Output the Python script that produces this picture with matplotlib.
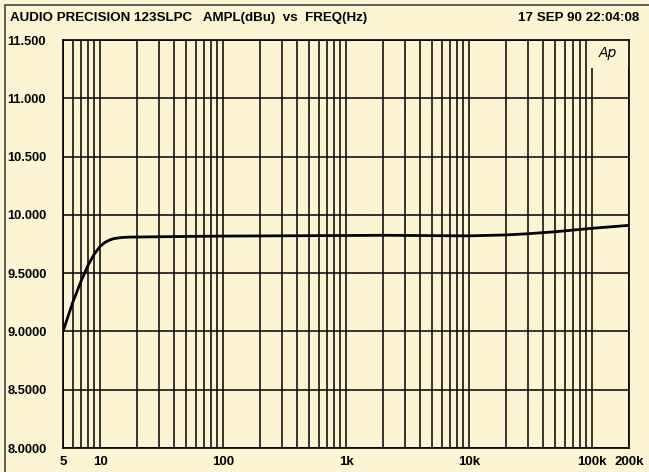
#!/usr/bin/env python3

from matplotlib import pyplot as plt
from matplotlib.patches import Rectangle
from matplotlib import font_manager

# response
freq = [5, 6, 7, 8, 9, 10, 11, 12, 13, 15, 17, 20, 50, 100, 1000, 2000,
        5000, 10000, 20000, 30000, 50000, 100000, 200000]
ampl = [9.0, 9.25, 9.43, 9.57, 9.665, 9.73, 9.765, 9.785, 9.797, 9.806,
        9.809, 9.81, 9.815, 9.818, 9.823, 9.825, 9.822, 9.82, 9.828, 9.838,
        9.855, 9.885, 9.91]

x_ticks = [5, 10, 100, 1000, 10000, 100000, 200000]
x_labels = ["5", "10", "100", "1k", "10k", "100k", "200k"]
y_ticks = [8.0, 8.5, 9.0, 9.5, 10.0, 10.5, 11.0, 11.5]
y_labels = ["8.0000", "8.5000", "9.0000", "9.5000", "10.000", "10.500",
            "11.000", "11.500"]

title = "AUDIO PRECISION 123SLPC   AMPL(dBu)  vs  FREQ(Hz)"
stamp = "17 SEP 90 22:04:08"

bg = "#fcf4d2"
names = [f.name for f in font_manager.fontManager.ttflist]
fam = ["Liberation Sans Narrow", "DejaVu Sans"] if "Liberation Sans Narrow" in names \
    else ["Liberation Sans", "DejaVu Sans"]
plt.rcParams['font.family'] = fam

fig = plt.figure(figsize=(6.49, 4.72), dpi=100, facecolor=bg)
ax = fig.add_axes([0.0971, 0.0508, 0.8721, 0.8644], facecolor=bg)

# outer frame of the printout
fig.add_artist(Rectangle((0.008, -0.01), 1.0, 1.0, transform=fig.transFigure,
                         fill=False, edgecolor="#444444", linewidth=1.2))

grid = []
for dec in [1, 10, 100, 1000, 10000, 100000]:
    for m in range(1, 10):
        f = m * dec
        if 5 <= f <= 200000:
            grid.append(f)

ax.set_xscale('log')
ax.set_xlim(5, 200000)
ax.set_ylim(8.0, 11.5)

for f in grid:
    ax.axvline(f, color="black", linewidth=1.1, zorder=1)
for v in y_ticks:
    ax.axhline(v, color="black", linewidth=1.1, zorder=1)

ax.plot(freq, ampl, color="black", linewidth=2.0, zorder=3,
        solid_capstyle='round', solid_joinstyle='round')

# Ap logo box
ax.add_patch(Rectangle((93000, 11.26), 200000 - 93000, 0.24, facecolor=bg,
                       edgecolor="none", zorder=2))
ax.text(135000, 11.39, "Ap", fontsize=10, style='italic', ha='center',
        va='center', family=["DejaVu Sans"], zorder=4)

ax.set_xticks(x_ticks)
ax.set_xticklabels(x_labels, fontsize=9.5, fontweight='bold')
ax.xaxis.set_minor_locator(plt.NullLocator())
ax.set_yticks(y_ticks)
ax.set_yticklabels(y_labels, fontsize=9.3, fontweight='bold', ha='left')
ax.tick_params(axis='both', length=0)
ax.tick_params(axis='x', pad=6)
ax.tick_params(axis='y', pad=40)

for s in ax.spines.values():
    s.set_linewidth(1.2)

fig.text(0.015, 0.962, title, fontsize=9.6, fontweight='bold', ha='left',
         va='center')
fig.text(0.985, 0.962, stamp, fontsize=9.6, fontweight='bold', ha='right',
         va='center')

fig.savefig("out.png", dpi=100, facecolor=bg)
